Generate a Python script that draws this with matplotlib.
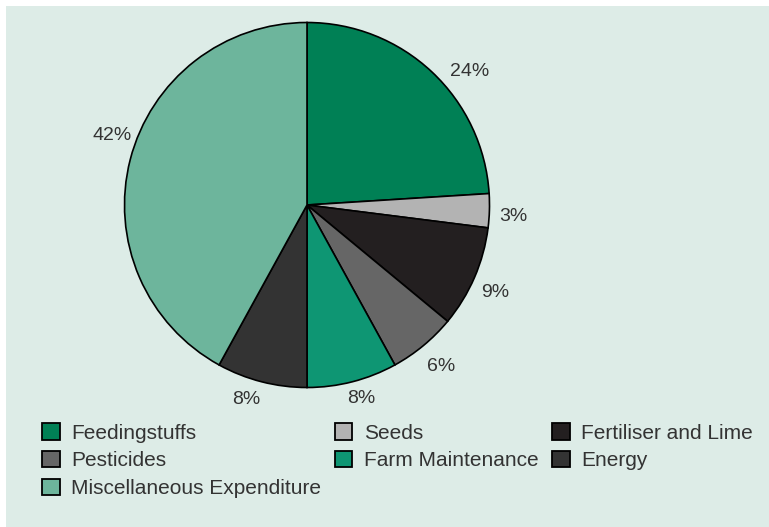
import matplotlib
matplotlib.use("Agg")
import numpy as np
import matplotlib.pyplot as plt
from matplotlib.patches import Rectangle, Patch

categories = ["Feedingstuffs", "Seeds", "Fertiliser and Lime", "Pesticides",
              "Farm Maintenance", "Energy", "Miscellaneous Expenditure"]
shares = [24, 3, 9, 6, 8, 8, 42]
colors = ["#008055", "#b3b3b3", "#231f20", "#666666", "#0e9673", "#333333", "#6db59c"]

# percentage label placement: angular nudge (degrees) and radial distance
label_shift = [-6.8, -0.9, -0.9, 0.5, 1.3, -3.0, -5.9]
label_dist = [1.16, 1.13, 1.13, 1.14, 1.09, 1.105, 1.14]

W, H = 769, 527
fig = plt.figure(figsize=(W / 100, H / 100), dpi=100)
fig.patch.set_facecolor("white")

# light panel behind everything
fig.patches.append(Rectangle((6 / W, 0), 1 - 6 / W, 1 - 6 / H,
                             transform=fig.transFigure, facecolor="#ddece7",
                             edgecolor="none", zorder=-10))

cx, cy, r = 307, 205, 182.5
ax = fig.add_axes([(cx - r) / W, (H - cy - r) / H, 2 * r / W, 2 * r / H])
ax.set_facecolor("none")
wedges, texts, autotexts = ax.pie(
    shares, colors=colors, startangle=90, counterclock=False,
    autopct=lambda p: f"{p:.0f}%", pctdistance=1.13,
    wedgeprops=dict(edgecolor="black", linewidth=1.2),
    textprops=dict(color="#333333", fontsize=14, family="Liberation Sans"))
for w, t, da, d in zip(wedges, autotexts, label_shift, label_dist):
    mid = np.deg2rad((w.theta1 + w.theta2) / 2 + da)
    t.set_position((d * np.cos(mid), d * np.sin(mid) - 0.012))
ax.set_xlim(-1, 1)
ax.set_ylim(-1, 1)
ax.set_aspect("equal")
ax.axis("off")

# legend, filled row by row in three columns
order = [0, 3, 6, 1, 4, 2, 5]
handles = [Patch(facecolor=colors[i], edgecolor="black", linewidth=1.3) for i in order]
labels = [categories[i] for i in order]
leg = fig.legend(handles, labels, ncol=3, loc="upper left",
                 bbox_to_anchor=(42 / W, 1 - 423 / H), frameon=False,
                 prop=dict(family="Liberation Sans", size=15),
                 handlelength=0.85, handleheight=0.85, handletextpad=0.55,
                 columnspacing=0.65, labelspacing=0.4, borderaxespad=0,
                 borderpad=0)
for t in leg.get_texts():
    t.set_color("#333333")

fig.savefig("out.png", dpi=100)
